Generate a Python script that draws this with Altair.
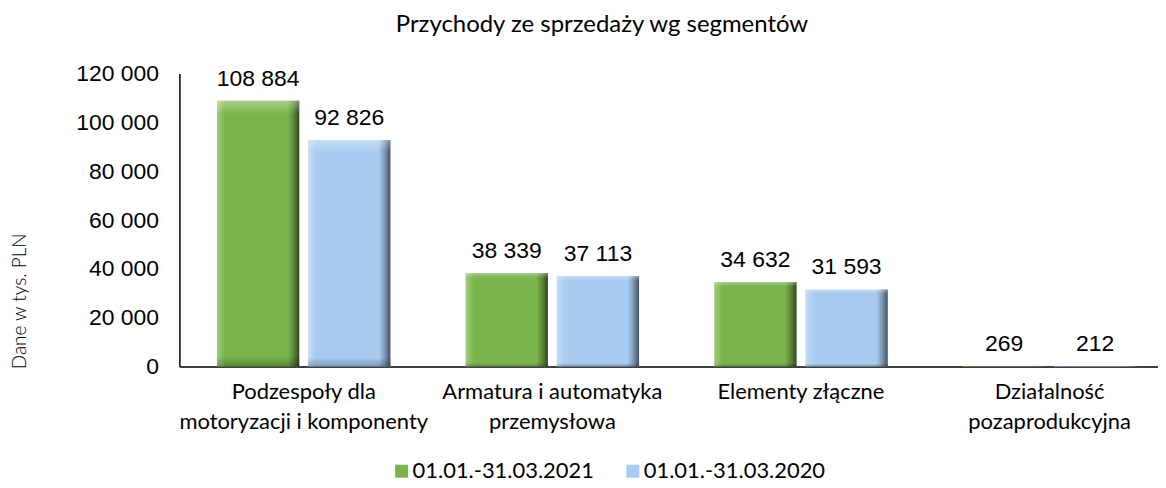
import altair as alt
import pandas as pd

categories = [
    "Podzespoły dla|motoryzacji i komponenty",
    "Armatura i automatyka|przemysłowa",
    "Elementy złączne",
    "Działalność|pozaprodukcyjna",
]
series = ["01.01.-31.03.2021", "01.01.-31.03.2020"]
values_2021 = [108884, 38339, 34632, 269]
values_2020 = [92826, 37113, 31593, 212]
y_ticks = [0, 20000, 40000, 60000, 80000, 100000, 120000]
colors = ["#7AB54C", "#A8CCF0"]

rows = []
for c, v in zip(categories, values_2021):
    rows.append({"segment": c, "okres": series[0], "value": v})
for c, v in zip(categories, values_2020):
    rows.append({"segment": c, "okres": series[1], "value": v})
df = pd.DataFrame(rows)

FONT_T = "Lato"
FONT_N = "Liberation Sans"
FMT = "replace(format(datum.value, ','), ',', ' ')"

x = alt.X(
    "segment:N",
    sort=categories,
    scale=alt.Scale(range=[0, 998], paddingInner=0, paddingOuter=0),
    axis=alt.Axis(
        title=None,
        labelExpr="split(datum.label, '|')",
        labelAngle=0,
        ticks=False,
        domainColor="black",
        domainWidth=1.5,
        labelFont=FONT_T,
        labelFontSize=22,
        labelColor="black",
        labelPadding=15,
        labelLineHeight=30,
        labelLimit=400,
    ),
)
xoff = alt.XOffset(
    "okres:N", sort=series, scale=alt.Scale(paddingInner=0.098, paddingOuter=0.4125)
)
y = alt.Y(
    "value:Q",
    scale=alt.Scale(domain=[0, 120000], nice=False),
    axis=alt.Axis(
        values=y_ticks,
        grid=False,
        ticks=False,
        domainColor="black",
        domainWidth=1.5,
        labelFont=FONT_N,
        labelFontSize=23,
        labelColor="black",
        labelPadding=21,
        labelExpr=FMT,
        title="Dane w tys. PLN",
        titleFont=FONT_T,
        titleFontSize=19,
        titleFontWeight=300,
        titleColor="#000000",
        titleAngle=270,
        titleBaseline="middle",
        titleX=-160,
        titleY=228,
    ),
)

color = alt.Color(
    "okres:N",
    sort=series,
    scale=alt.Scale(domain=series, range=colors),
    legend=alt.Legend(
        title=None,
        orient="none",
        legendX=212,
        legendY=388,
        direction="horizontal",
        symbolType="square",
        symbolSize=169,
        symbolStrokeWidth=0,
        labelFont=FONT_T,
        labelFontSize=22,
        labelColor="black",
        labelOffset=0,
        labelLimit=400,
        columnPadding=27,
    ),
)

base = alt.Chart(df)

bars = base.mark_bar().encode(x=x, xOffset=xoff, y=y, color=color)

shade = base.mark_bar(
    fill=alt.LinearGradient(
        gradient="linear",
        x1=0, x2=1, y1=0, y2=0,
        stops=[
            alt.GradientStop(color="rgba(255,255,255,0.30)", offset=0),
            alt.GradientStop(color="rgba(255,255,255,0.0)", offset=0.1),
            alt.GradientStop(color="rgba(0,0,0,0.0)", offset=0.86),
            alt.GradientStop(color="rgba(0,0,0,0.25)", offset=0.93),
            alt.GradientStop(color="rgba(0,0,0,0.6)", offset=1),
        ],
    )
).encode(x=x, xOffset=xoff, y=y)

shade_v = base.mark_bar(
    fill=alt.LinearGradient(
        gradient="linear",
        x1=0, x2=0, y1=0, y2=1,
        stops=[
            alt.GradientStop(color="rgba(255,255,255,0.35)", offset=0),
            alt.GradientStop(color="rgba(255,255,255,0.0)", offset=0.05),
            alt.GradientStop(color="rgba(0,0,0,0.0)", offset=0.96),
            alt.GradientStop(color="rgba(0,0,0,0.25)", offset=1),
        ],
    )
).encode(x=x, xOffset=xoff, y=y)

labels = base.mark_text(
    font=FONT_N, fontSize=23, baseline="alphabetic", dy=-15, color="black"
).transform_calculate(label=FMT).encode(x=x, xOffset=xoff, y=y, text="label:N")

chart = alt.layer(bars, shade, shade_v, labels).properties(
    width=982,
    height=294,
    autosize=alt.AutoSizeParams(type="none"),
    padding={"left": 172, "top": 65, "right": 0, "bottom": 115},
    title=alt.TitleParams(
        "Przychody ze sprzedaży wg segmentów",
        font=FONT_T,
        fontSize=24,
        fontWeight="normal",
        color="black",
        anchor="middle",
        frame="group",
        dx=-67,
        offset=26,
    ),
).configure_view(stroke=None)

chart.save("out.html", embed_options={"renderer": "svg", "actions": False})
